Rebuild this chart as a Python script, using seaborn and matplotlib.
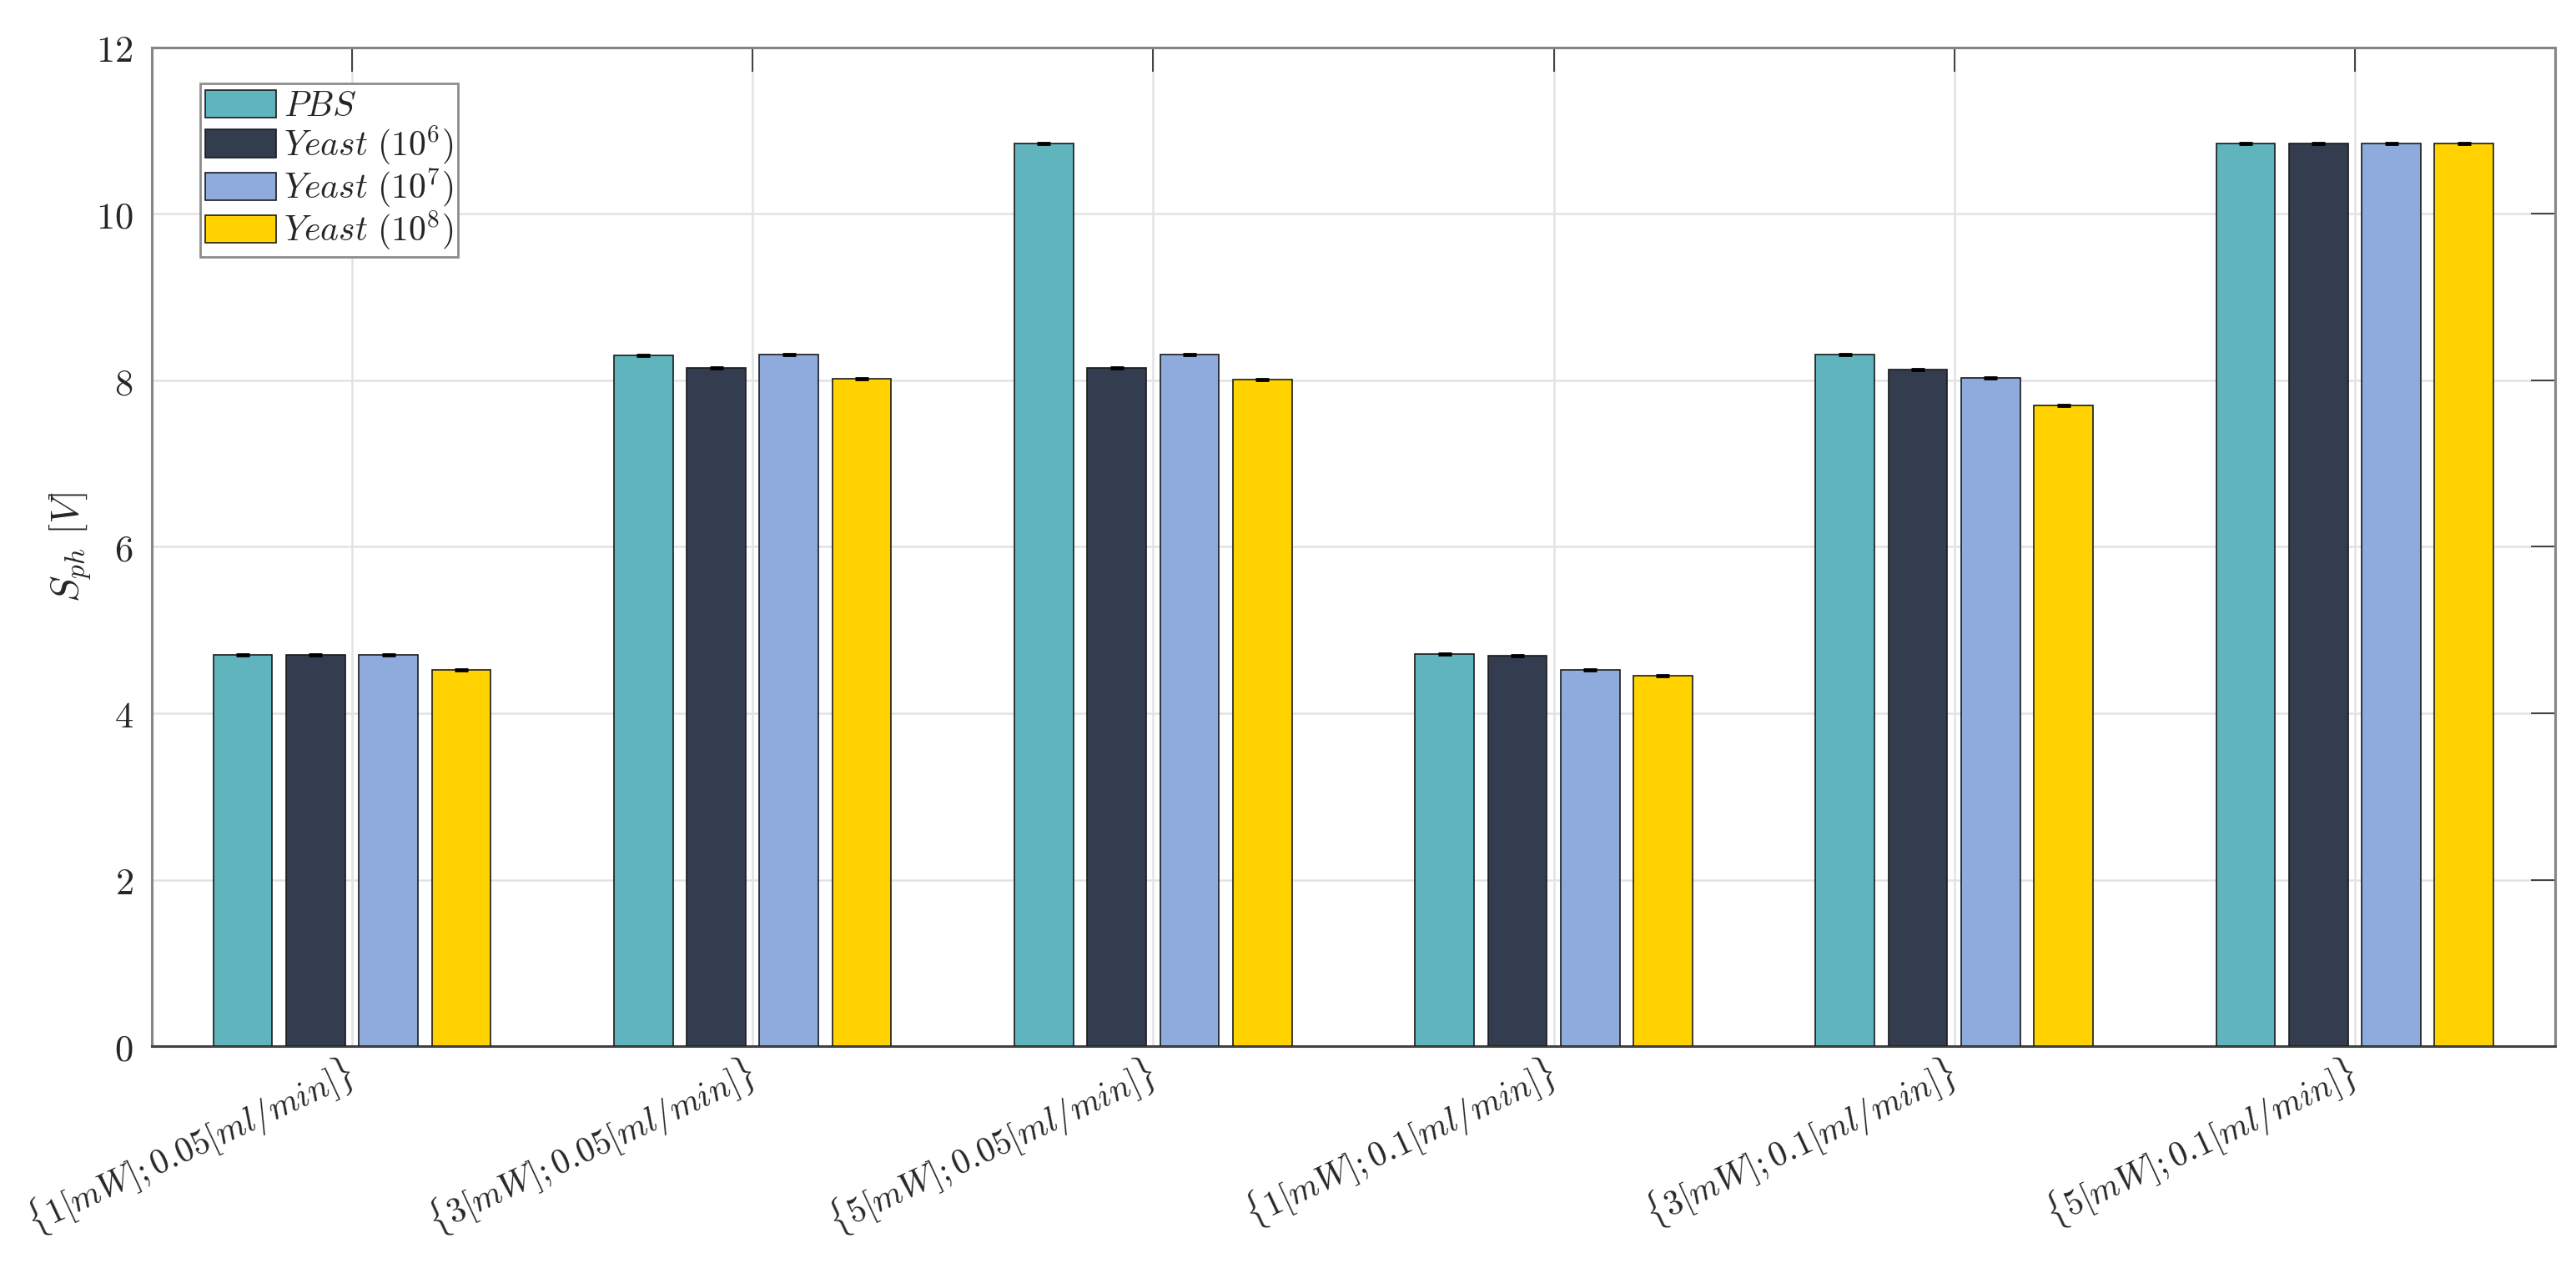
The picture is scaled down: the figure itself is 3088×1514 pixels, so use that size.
import numpy as np
import pandas as pd
import matplotlib
matplotlib.use("Agg")
import matplotlib.pyplot as plt
import matplotlib.transforms as mtransforms
import seaborn as sns

# ------------------------------
# data
# ------------------------------
conditions = [
    r"$\{1[mW];0.05[ml/min]\}$",
    r"$\{3[mW];0.05[ml/min]\}$",
    r"$\{5[mW];0.05[ml/min]\}$",
    r"$\{1[mW];0.1[ml/min]\}$",
    r"$\{3[mW];0.1[ml/min]\}$",
    r"$\{5[mW];0.1[ml/min]\}$",
]
series = [r"$PBS$", r"$Yeast\ (10^6)$", r"$Yeast\ (10^7)$", r"$Yeast\ (10^8)$"]

pbs = [4.70, 8.30, 10.85, 4.71, 8.31, 10.85]
yeast6 = [4.70, 8.15, 8.15, 4.69, 8.13, 10.85]
yeast7 = [4.70, 8.31, 8.31, 4.52, 8.03, 10.85]
yeast8 = [4.52, 8.02, 8.01, 4.45, 7.70, 10.85]
err = [0.01, 0.01, 0.01, 0.01, 0.01, 0.01]

colors = ["#5FB4BE", "#333D4F", "#8FAADC", "#FFD200"]
y_ticks = [0, 2, 4, 6, 8, 10, 12]

df = pd.DataFrame({
    "cond": conditions * 4,
    "group": np.repeat(series, len(conditions)),
    "val": pbs + yeast6 + yeast7 + yeast8,
    "err": err * 4,
})

# ------------------------------
# style
# ------------------------------
sns.set_style("white")
plt.rcParams["mathtext.fontset"] = "cm"
plt.rcParams["font.family"] = ["DejaVu Serif"]

fig = plt.figure(figsize=(15.44, 7.57), dpi=200)
ax = fig.add_axes([0.0589, 0.1717, 0.9330, 0.7907])

sns.barplot(
    data=df, x="cond", y="val", hue="group", order=conditions, hue_order=series,
    palette=colors, saturation=1, width=0.727, gap=0.19, errorbar=None,
    edgecolor="#1a1a1a", linewidth=0.6, ax=ax, zorder=3,
)

# tiny error bars on top of each bar
bars = [p for p in ax.patches if p.get_height() > 0]
xs = [p.get_x() + p.get_width() / 2 for p in bars]
hs = [p.get_height() for p in bars]
ax.errorbar(xs, hs, yerr=df["err"].values[: len(xs)], fmt="none",
            ecolor="black", elinewidth=0.8, capsize=3, capthick=1.0, zorder=4)

# ------------------------------
# axes
# ------------------------------
ax.set_xlim(-0.5, len(conditions) - 0.5)
ax.set_ylim(0, 12)
ax.set_yticks(y_ticks, labels=[f"${t}$" for t in y_ticks])
ax.set_xticks(range(len(conditions)))
ax.set_xticklabels(conditions, rotation=25, ha="right", va="center",
                   rotation_mode="anchor")
# nudge rotated labels a little to the left
shift = mtransforms.ScaledTranslation(-5 / 72, 0, fig.dpi_scale_trans)
for lab in ax.get_xticklabels():
    lab.set_transform(lab.get_transform() + shift)
ax.set_xlabel("")
ax.set_ylabel(r"$S_{ph}\ [V]$", fontsize=17, color="#262626", labelpad=1)

ax.grid(True, color="#e3e3e3", linewidth=0.9)
ax.set_axisbelow(True)
ax.tick_params(axis="both", which="both", direction="in", length=10.4,
               width=0.7, color="#404040", labelsize=16, labelcolor="#262626",
               top=True, right=True, pad=8)
ax.tick_params(axis="x", pad=11, labelsize=15)
for s in ax.spines.values():
    s.set_visible(True)
    s.set_color("#858585")
    s.set_linewidth(1.1)
ax.spines["bottom"].set_color("#404040")

handles, labels = ax.get_legend_handles_labels()
leg = ax.legend(handles, labels, loc="upper left", bbox_to_anchor=(0.020, 0.964),
                borderaxespad=0, fancybox=False, framealpha=1, edgecolor="#8c8c8c",
                fontsize=15, handlelength=2.05, handleheight=0.85, labelspacing=0.0,
                handletextpad=0.2, borderpad=0.15)
leg.get_frame().set_linewidth(1.0)

fig.savefig("out.png", dpi=200)
